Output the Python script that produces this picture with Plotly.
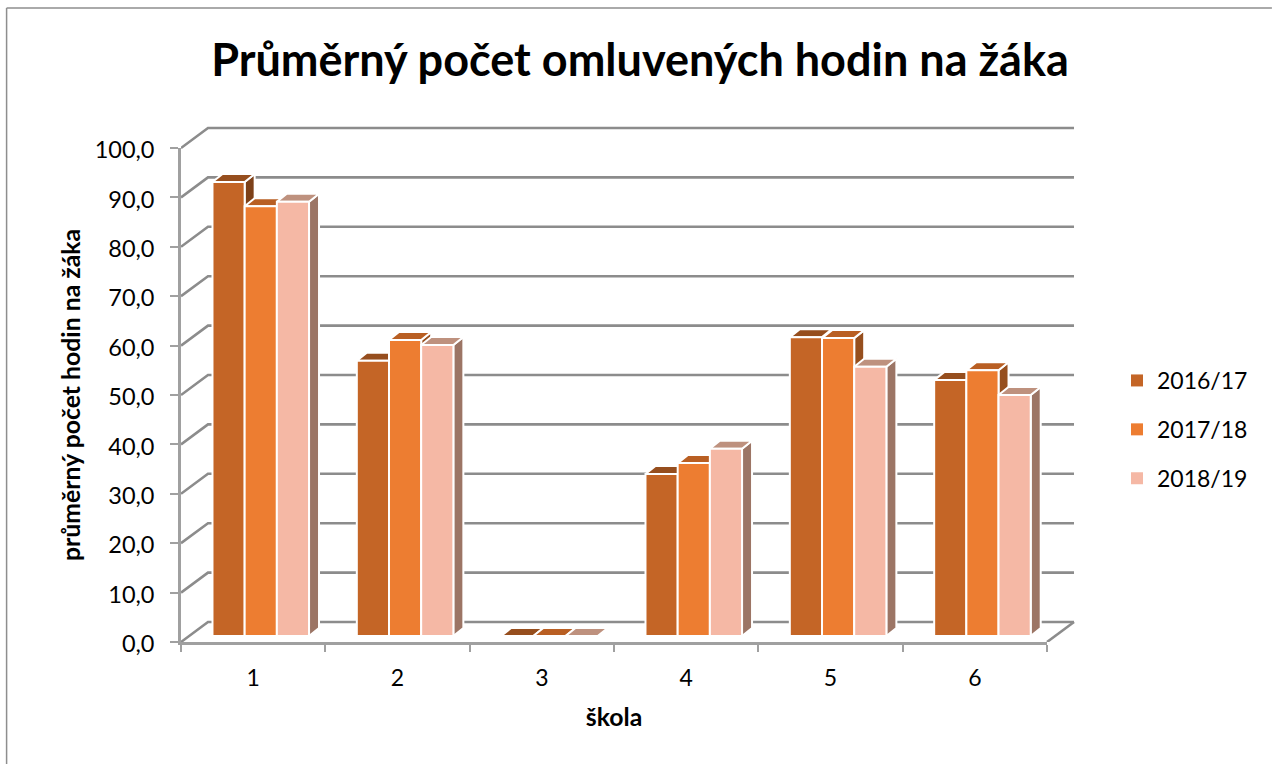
import plotly.graph_objects as go

TITLE = "Průměrný počet omluvených hodin na žáka"
SCHOOLS = ["1", "2", "3", "4", "5", "6"]
SERIES = ["2016/17", "2017/18", "2018/19"]
V_2016 = [91.9, 55.7, 0, 32.8, 60.5, 51.8]
V_2017 = [87.0, 59.9, 0, 35.0, 60.3, 53.8]
V_2018 = [87.9, 58.9, 0, 37.9, 54.5, 48.8]
VALUES = [V_2016, V_2017, V_2018]
FRONT = ["#C46526", "#ED7D31", "#F5B8A5"]
TOP = ["#964E1E", "#B95F23", "#BE917E"]
SIDE = ["#7D4119", "#964F1E", "#9C7565"]
GRID = "#8C8C8C"
FONT = "Lato"

W, H = 1272, 764
# front plane of the chart box, in pixels
FL, FR, FT, FB = 180.5, 1047, 148, 642
# plot area including the depth of the box
L, R, T, B = FL, W - 1090, 112, H - FB
PX_X = (FR - FL) / 6
PX_Y = (FB - FT) / 100
WALL_X, WALL_Y = 27 / PX_X, 20 / PX_Y          # depth of the 3-D box
PLANE_X, PLANE_Y = 8 / PX_X, 6 / PX_Y           # front plane of the bars
DEPTH_X, DEPTH_Y = 10 / PX_X, 8 / PX_Y          # depth of one bar
START, BAR = 23.5 / PX_X, 32.2 / PX_X


def poly(points):
    xs, ys = [], []
    for pts in points:
        xs += [p[0] for p in pts] + [pts[0][0], None]
        ys += [p[1] for p in pts] + [pts[0][1], None]
    return xs, ys


fig = go.Figure()

# walls and floor
gx, gy = [], []
for v in range(0, 101, 10):
    gx += [0, WALL_X, 6 + WALL_X, None]
    gy += [v, v + WALL_Y, v + WALL_Y, None]
gx += [6, 6 + WALL_X]
gy += [0, WALL_Y]
fig.add_trace(go.Scatter(x=gx, y=gy, mode="lines", line=dict(color=GRID, width=2.6),
                         showlegend=False, hoverinfo="skip"))

# bars, drawn left to right so that later bars cover earlier sides
for s, vals in enumerate(VALUES):
    sides, tops, fronts = [], [], []
    for i, v in enumerate(vals):
        x0 = i + START + PLANE_X + s * BAR
        x1 = x0 + BAR
        y0 = PLANE_Y
        y1 = v + PLANE_Y
        fronts.append([(x0, y0), (x1, y0), (x1, y1), (x0, y1)])
        tops.append([(x0, y1), (x1, y1), (x1 + DEPTH_X, y1 + DEPTH_Y), (x0 + DEPTH_X, y1 + DEPTH_Y)])
        sides.append([(x1, y0), (x1 + DEPTH_X, y0 + DEPTH_Y), (x1 + DEPTH_X, y1 + DEPTH_Y), (x1, y1)])
    for group, color in ((sides, SIDE[s]), (tops, TOP[s]), (fronts, FRONT[s])):
        xs, ys = poly(group)
        fig.add_trace(go.Scatter(x=xs, y=ys, mode="lines", fill="toself", fillcolor=color,
                                 line=dict(color="white", width=2),
                                 showlegend=False, hoverinfo="skip"))

# legend entries, on the axes of the front plane
for s, name in enumerate(SERIES):
    fig.add_trace(go.Scatter(x=[None], y=[None], xaxis="x2", yaxis="y2", mode="markers",
                             name=name, legendgroup=name,
                             marker=dict(symbol="square", size=13, color=FRONT[s])))

PW, PH = W - L - R, H - T - B
frame = dict(type="line", xref="paper", yref="paper", line=dict(color="#8E8E8E", width=1.5), layer="below")
px = lambda p: (p - L) / PW
py = lambda p: 1 - (p - T) / PH
AXIS = "#A0A0A0"

fig.update_layout(
    width=W, height=H, autosize=False,
    margin=dict(l=L, r=R, t=T, b=B, autoexpand=False),
    paper_bgcolor="white", plot_bgcolor="rgba(0,0,0,0)",
    font=dict(family=FONT, color="black", size=23),
    title=dict(text=f"<b>{TITLE}</b>", font=dict(size=45, family=FONT), x=640 / W, xanchor="center",
               y=1 - 60 / H, yanchor="middle"),
    xaxis=dict(range=[0, (1090 - FL) / PX_X], visible=False),
    yaxis=dict(range=[0, (FB - 112) / PX_Y], visible=False),
    xaxis2=dict(domain=[0, (FR - FL) / PW], anchor="y2", range=[0, 6], showgrid=False, zeroline=False,
                showline=True, linecolor=AXIS, linewidth=2.6,
                tickmode="array", tickvals=[i + 0.5 for i in range(6)], ticktext=SCHOOLS, ticks="",
                tickfont=dict(size=23), ticklabelstandoff=14,
                minor=dict(tickmode="array", tickvals=list(range(7)), ticks="outside", ticklen=7,
                           tickcolor=AXIS, tickwidth=1.5, showgrid=False),
                title=dict(text="<b>škola</b>", font=dict(size=24.8), standoff=19)),
    yaxis2=dict(domain=[0, (FB - FT) / PH], anchor="x2", range=[0, 100], showgrid=False, zeroline=False,
                showline=True, linecolor=AXIS, linewidth=2.6,
                tickmode="array", tickvals=list(range(0, 101, 10)),
                ticktext=[f"{v},0" for v in range(0, 101, 10)], ticks="outside", ticklen=8,
                tickcolor=AXIS, tickwidth=1.5, tickfont=dict(size=23.5), ticklabelstandoff=11,
                ticklabelshift=2,
                title=dict(text="<b>průměrný počet hodin na žáka</b>", font=dict(size=24.8), standoff=7)),
    legend=dict(x=px(1117), y=py(359), xanchor="left", yanchor="top", tracegroupgap=16,
                font=dict(size=23), itemsizing="constant", bgcolor="rgba(0,0,0,0)"),
    shapes=[
        dict(frame, x0=px(6), x1=px(W), y0=py(8), y1=py(8)),
        dict(frame, x0=px(6), x1=px(6), y0=py(8), y1=py(H)),
    ],
)
fig.write_html("out.html", config={"displayModeBar": False},
               post_script="document.body.style.margin='0';")
